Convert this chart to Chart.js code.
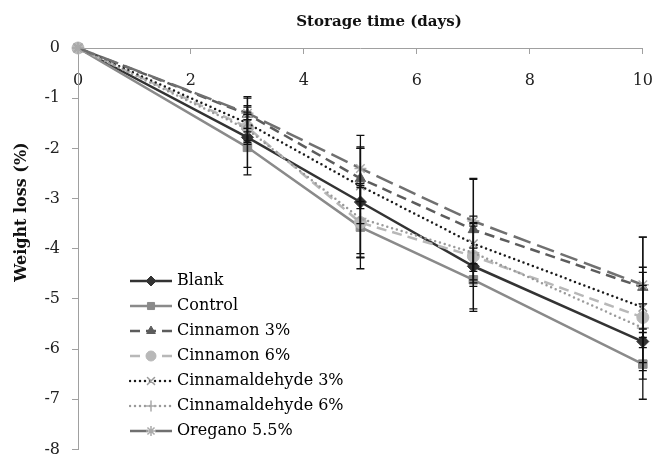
<!DOCTYPE html>
<html>
<head>
<meta charset="utf-8">
<script src="https://cdn.jsdelivr.net/npm/chart.js@4.4.1/dist/chart.umd.min.js"></script>
<style>
  html, body { margin: 0; padding: 0; background: #fff; overflow: hidden; }
  #wrap { width: 671px; height: 471px; }
</style>
</head>
<body>
<div id="wrap"><canvas id="chart"></canvas></div>
<script>
// storage days and weight loss (%) of each treatment
const days = [0, 3, 5, 7, 10];
const xTicks = [0, 2, 4, 6, 8, 10];
const yTicks = [0, -1, -2, -3, -4, -5, -6, -7, -8];

const blank = [0, -1.78, -3.07, -4.35, -5.85];
const control = [0, -1.98, -3.57, -4.62, -6.3];
const cinnamon3 = [0, -1.32, -2.6, -3.62, -4.77];
const cinnamon6 = [0, -1.58, -3.48, -4.15, -5.37];
const cinnamaldehyde3 = [0, -1.5, -2.75, -3.9, -5.17];
const cinnamaldehyde6 = [0, -1.62, -3.4, -4.08, -5.58];
const oregano = [0, -1.3, -2.4, -3.45, -4.72];

// error bar half widths
const blankErr = [0, 0.6, 1.1, 0.85, 0.75];
const controlErr = [0, 0.55, 0.83, 0.63, 0.7];
const cinnamon3Err = [0, 0.35, 0.6, 1.0, 1.0];
const cinnamon6Err = [0, 0.3, 0.7, 0.6, 0.9];
const cinnamaldehyde3Err = [0, 0.35, 0.75, 0.55, 0.8];
const cinnamaldehyde6Err = [0, 0.3, 0.7, 0.6, 0.85];
const oreganoErr = [0, 0.3, 0.66, 0.85, 0.95];

const xTitle = 'Storage time (days)';
const yTitle = 'Weight loss (%)';

Chart.defaults.font.family = 'DejaVu Serif';
Chart.defaults.font.size = 16;
Chart.defaults.color = '#222';

function series(label, values, errs, style) {
    return Object.assign({
        label: label,
        data: values.map((v, i) => ({x: days[i], y: v})),
        errors: errs,
        borderWidth: 2.5,
        tension: 0,
        clip: false,
        pointRadius: 6,
        pointHoverRadius: 6,
        pointBorderWidth: 1
    }, style);
}

let datasets = [
    series('Blank', blank, blankErr, {
        borderColor: '#333', backgroundColor: '#333',
        pointStyle: 'rectRot', pointBackgroundColor: '#333', pointBorderColor: '#333'
    }),
    series('Control', control, controlErr, {
        borderColor: '#8a8a8a', backgroundColor: '#8a8a8a',
        pointStyle: 'rect', pointBackgroundColor: '#8a8a8a', pointBorderColor: '#8a8a8a'
    }),
    series('Cinnamon 3%', cinnamon3, cinnamon3Err, {
        borderColor: '#5c5c5c', backgroundColor: '#5c5c5c', borderDash: [10, 6],
        pointStyle: 'triangle', pointBackgroundColor: '#5c5c5c', pointBorderColor: '#5c5c5c'
    }),
    series('Cinnamon 6%', cinnamon6, cinnamon6Err, {
        borderColor: '#b8b8b8', backgroundColor: '#b8b8b8', borderDash: [10, 6],
        pointStyle: 'circle', pointBackgroundColor: '#b8b8b8', pointBorderColor: '#b8b8b8'
    }),
    series('Cinnamaldehyde 3%', cinnamaldehyde3, cinnamaldehyde3Err, {
        borderColor: '#1a1a1a', backgroundColor: '#1a1a1a', borderDash: [0, 5], borderCapStyle: 'round',
        pointStyle: 'crossRot', pointBackgroundColor: '#999', pointBorderColor: '#999', pointBorderWidth: 1.5
    }),
    series('Cinnamaldehyde 6%', cinnamaldehyde6, cinnamaldehyde6Err, {
        borderColor: '#9a9a9a', backgroundColor: '#9a9a9a', borderDash: [0, 5], borderCapStyle: 'round',
        pointStyle: 'cross', pointBackgroundColor: '#aaa', pointBorderColor: '#aaa', pointBorderWidth: 1.5
    }),
    series('Oregano 5.5%', oregano, oreganoErr, {
        borderColor: '#707070', backgroundColor: '#707070', borderDash: [18, 7],
        pointStyle: 'star', pointBackgroundColor: '#aaa', pointBorderColor: '#aaa', pointBorderWidth: 1.5
    })
];
// later series on top, like the original
datasets.forEach((ds, i) => { ds.order = -i; });

// little line + marker picture for the legend
function legendSwatch(ds) {
    let c = document.createElement('canvas');
    c.width = 44; c.height = 16;
    let g = c.getContext('2d');
    g.strokeStyle = ds.borderColor;
    g.lineWidth = ds.borderWidth;
    g.lineCap = ds.borderCapStyle || 'butt';
    g.setLineDash(ds.borderDash || []);
    g.beginPath(); g.moveTo(1, 8); g.lineTo(43, 8); g.stroke();
    g.setLineDash([]);
    g.fillStyle = ds.pointBackgroundColor;
    g.strokeStyle = ds.pointBorderColor;
    g.lineWidth = ds.pointBorderWidth;
    if (Chart.helpers && Chart.helpers.drawPoint) {
        Chart.helpers.drawPoint(g, {pointStyle: ds.pointStyle, radius: 5, rotation: 0, borderWidth: g.lineWidth}, 22, 8);
    }
    return c;
}

const errorBars = {
    id: 'errorBars',
    afterDatasetsDraw(chart) {
        let ctx = chart.ctx, y = chart.scales.y;
        ctx.save();
        ctx.strokeStyle = '#111';
        ctx.lineWidth = 1.3;
        chart.data.datasets.forEach((ds, di) => {
            let meta = chart.getDatasetMeta(di);
            meta.data.forEach((pt, i) => {
                let e = ds.errors[i];
                if (!e) return;
                let v = ds.data[i].y;
                let top = y.getPixelForValue(v + e), bot = y.getPixelForValue(v - e);
                ctx.beginPath();
                ctx.moveTo(pt.x, top); ctx.lineTo(pt.x, bot);
                ctx.moveTo(pt.x - 4, top); ctx.lineTo(pt.x + 4, top);
                ctx.moveTo(pt.x - 4, bot); ctx.lineTo(pt.x + 4, bot);
                ctx.stroke();
            });
        });
        ctx.restore();
    }
};

// axis titles sit where the original put them
const axisTitles = {
    id: 'axisTitles',
    afterDraw(chart) {
        let ctx = chart.ctx;
        ctx.save();
        ctx.fillStyle = '#111';
        ctx.textAlign = 'center';
        ctx.textBaseline = 'middle';
        ctx.font = 'bold 15px "DejaVu Serif"';
        ctx.fillText(xTitle, 379, 22);
        ctx.font = 'bold 16px "DejaVu Serif"';
        ctx.translate(22, 212);
        ctx.rotate(-Math.PI / 2);
        ctx.fillText(yTitle, 0, 0);
        ctx.restore();
    }
};

// move the legend box into the lower left of the plot
const legendPlace = {
    id: 'legendPlace',
    afterLayout(chart) {
        let lg = chart.legend;
        if (!lg) return;
        lg.left = 124; lg.top = 264;
        lg.right = 420; lg.bottom = 470;
        lg.width = 296; lg.height = 206;
    }
};

new Chart(document.getElementById('chart'), {
    type: 'line',
    data: {datasets: datasets},
    options: {
        responsive: true,
        maintainAspectRatio: false,
        animation: false,
        events: [],
        layout: {padding: {top: 48, left: 38, right: 12, bottom: 13}},
        plugins: {
            tooltip: {enabled: false},
            legend: {
                position: 'chartArea',
                align: 'start',
                labels: {
                    usePointStyle: true,
                    pointStyleWidth: 36,
                    padding: 9,
                    color: '#222',
                    font: {family: 'DejaVu Serif', size: 16},
                    generateLabels(chart) {
                        return chart.data.datasets.map((ds, i) => ({
                            text: ds.label,
                            pointStyle: legendSwatch(ds),
                            fillStyle: ds.backgroundColor,
                            strokeStyle: ds.borderColor,
                            lineWidth: 0,
                            hidden: false,
                            datasetIndex: i
                        }));
                    }
                }
            }
        },
        scales: {
            x: {
                type: 'linear',
                position: {y: 0},
                min: 0,
                max: 10,
                afterBuildTicks(scale) { scale.ticks = xTicks.map(v => ({value: v})); },
                grid: {drawOnChartArea: false, drawTicks: true, tickLength: 5, color: '#a0a0a0'},
                border: {display: true, color: '#a0a0a0', width: 1},
                ticks: {padding: 18, color: '#222', font: {size: 16}}
            },
            y: {
                type: 'linear',
                min: -8,
                max: 0,
                afterBuildTicks(scale) { scale.ticks = yTicks.map(v => ({value: v})); },
                afterFit(scale) { scale.width = 40; },
                grid: {drawOnChartArea: false, drawTicks: true, tickLength: 6, color: '#a0a0a0'},
                border: {display: true, color: '#a0a0a0', width: 1},
                ticks: {padding: 12, color: '#222', font: {size: 16}}
            }
        }
    },
    plugins: [errorBars, axisTitles, legendPlace]
});
</script>
</body>
</html>
